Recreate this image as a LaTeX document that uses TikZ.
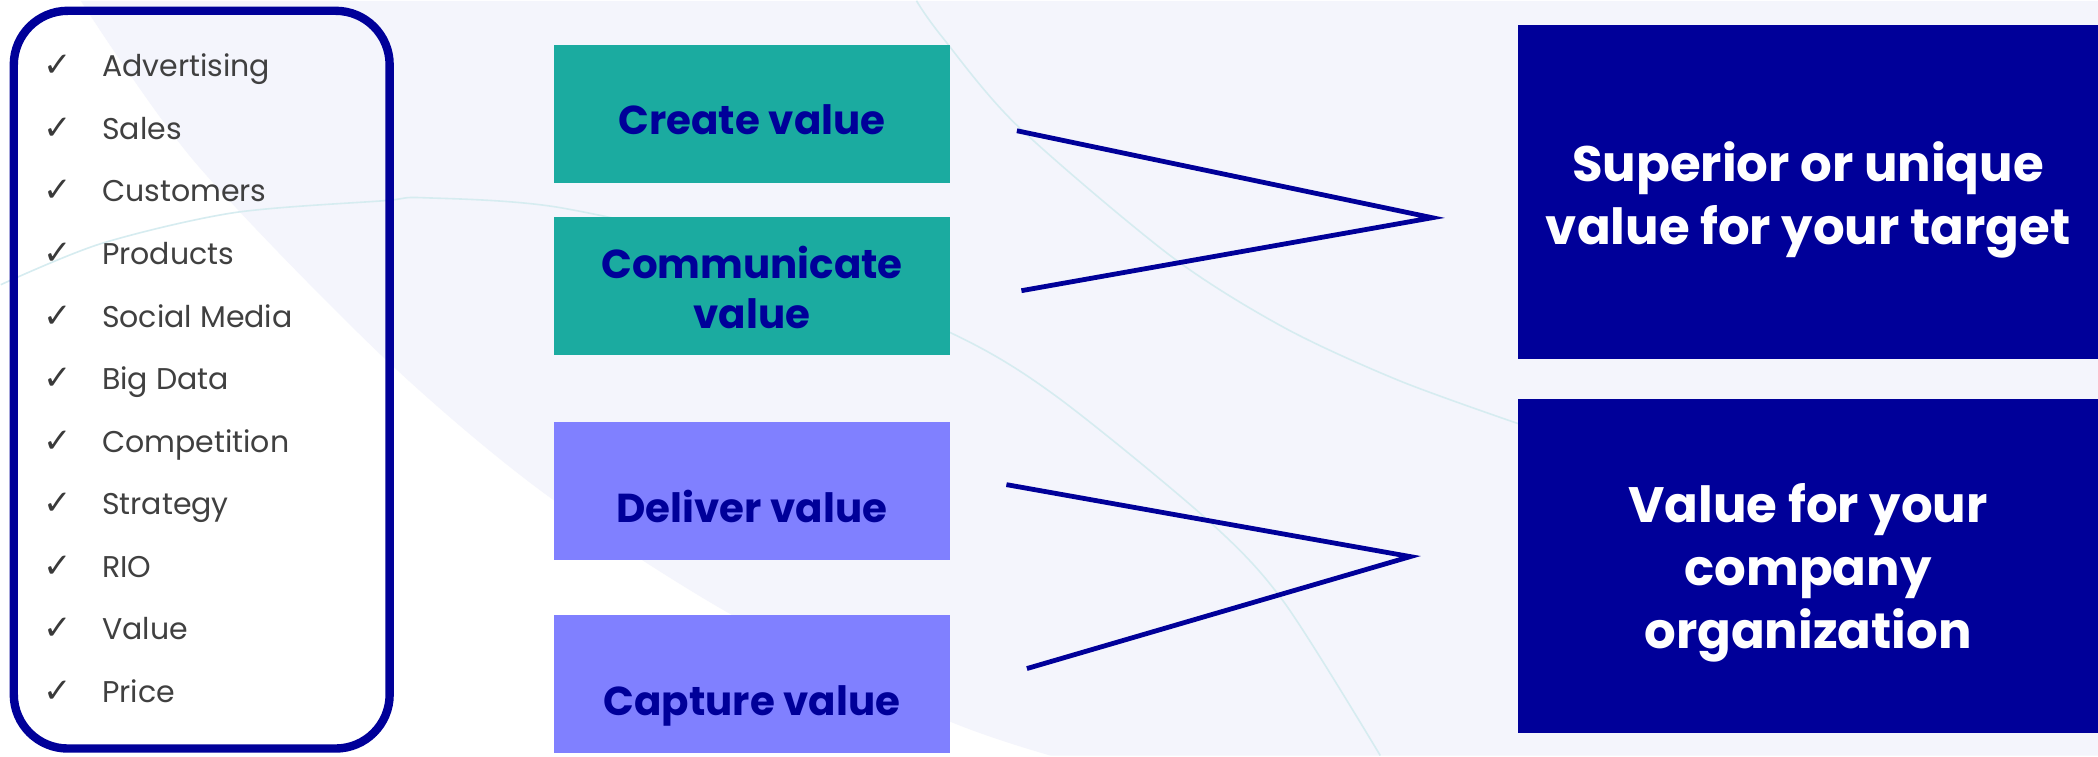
\documentclass[tikz,border=0pt]{standalone}
\usepackage{fontspec}
\setmainfont{Poppins}
\newfontfamily\checkfont{DejaVu Sans}

\definecolor{valnavy}{RGB}{0,0,153}
\definecolor{valteal}{RGB}{27,171,160}
\definecolor{valpurple}{RGB}{128,128,255}
\definecolor{itemgray}{RGB}{64,64,64}
\definecolor{bglav}{RGB}{244,245,252}
\definecolor{arccyan}{RGB}{214,236,240}

\begin{document}
\begin{tikzpicture}[x=0.5pt, y=-0.5pt,
    every node/.style={inner sep=0pt},
    tick/.style={anchor=base west, font=\checkfont\fontsize{17}{19}\selectfont, text=itemgray!90!black},
    item/.style={anchor=base west, font=\fontsize{15}{18}\selectfont, text=itemgray},
    valbox/.style={minimum width=198.5pt, minimum height=69pt},
    valtext/.style={font=\bfseries\fontsize{20.2}{25}\selectfont, text=valnavy, align=center},
    goalbox/.style={fill=valnavy, minimum width=290pt, minimum height=167pt},
    goaltext/.style={font=\bfseries\fontsize{24.9}{31.5}\selectfont, text=white, align=center},
    link/.style={draw=valnavy, line width=2.4pt}]

  % Background with the soft swoosh
  \fill[white] (0,0) rectangle (2098,755);
  \fill[bglav] plot[smooth] coordinates {(80,0) (193,160) (380,354) (540,490) (729,613) (940,717) (1050,755)}
    -- (2098,755) -- (2098,0) -- cycle;
  \draw[arccyan, line width=0.8pt] plot[smooth] coordinates {(916,0) (940,34) (1017,125) (1170,255) (1284,327) (1399,380) (1518,423)};
  \draw[arccyan, line width=0.8pt] plot[smooth] coordinates {(0,284) (100,243) (233,212) (383,200) (423,197) (560,207) (760,255) (950,332) (1055,395) (1208,520) (1284,602) (1380,755)};
  \useasboundingbox (0,0) rectangle (2098,755);

  % Topic list
  \node[draw=valnavy, line width=4.2pt, rounded corners=27pt, minimum width=188pt, minimum height=369pt] (list) at (201,379) {};
  \foreach \word [count=\i from 0] in {Advertising, Sales, Customers, Products, Social Media, Big Data, Competition, Strategy, RIO, Value, Price} {
    \node[tick] (tick\i) at (42, {76+62.6*\i}) {✓};
    \node[item] (item\i) at (101, {76+62.6*\i}) {\word};
  }

  % Four value steps
  \node[valbox, fill=valteal] (create) at (751.5,113) {};
  \node[valbox, fill=valteal] (communicate) at (751.5,285.5) {};
  \node[valbox, fill=valpurple] (deliver) at (751.5,490) {};
  \node[valbox, fill=valpurple] (capture) at (751.5,683.5) {};
  \node[valtext, anchor=base] (create-t) at (751.5,134) {Create value};
  \node[valtext] (communicate-t) at (751.5,286.7) {Communicate\\value};
  \node[valtext, anchor=base] (deliver-t) at (751.5,522) {Deliver value};
  \node[valtext, anchor=base] (capture-t) at (751.5,715) {Capture value};

  % Outcomes
  \node[goalbox] (target) at (1808,191) {};
  \node[goalbox] (company) at (1808,565.5) {};
  \node[goaltext] (target-t) at (1808,199) {Superior or unique\\value for your target};
  \node[goaltext] (company-t) at (1808,572) {Value for your\\company\\organization};

  % Brackets joining the steps
  \coordinate (ca) at (1016.5,130);
  \coordinate (cb) at (1021,290);
  \coordinate (tipA) at (1432,217);
  \draw[link] (ca) -- (tipA) -- (cb);
  \coordinate (da) at (1006,484);
  \coordinate (db) at (1026.5,668);
  \coordinate (tipB) at (1410,556);
  \draw[link] (da) -- (tipB) -- (db);
\end{tikzpicture}
\end{document}
